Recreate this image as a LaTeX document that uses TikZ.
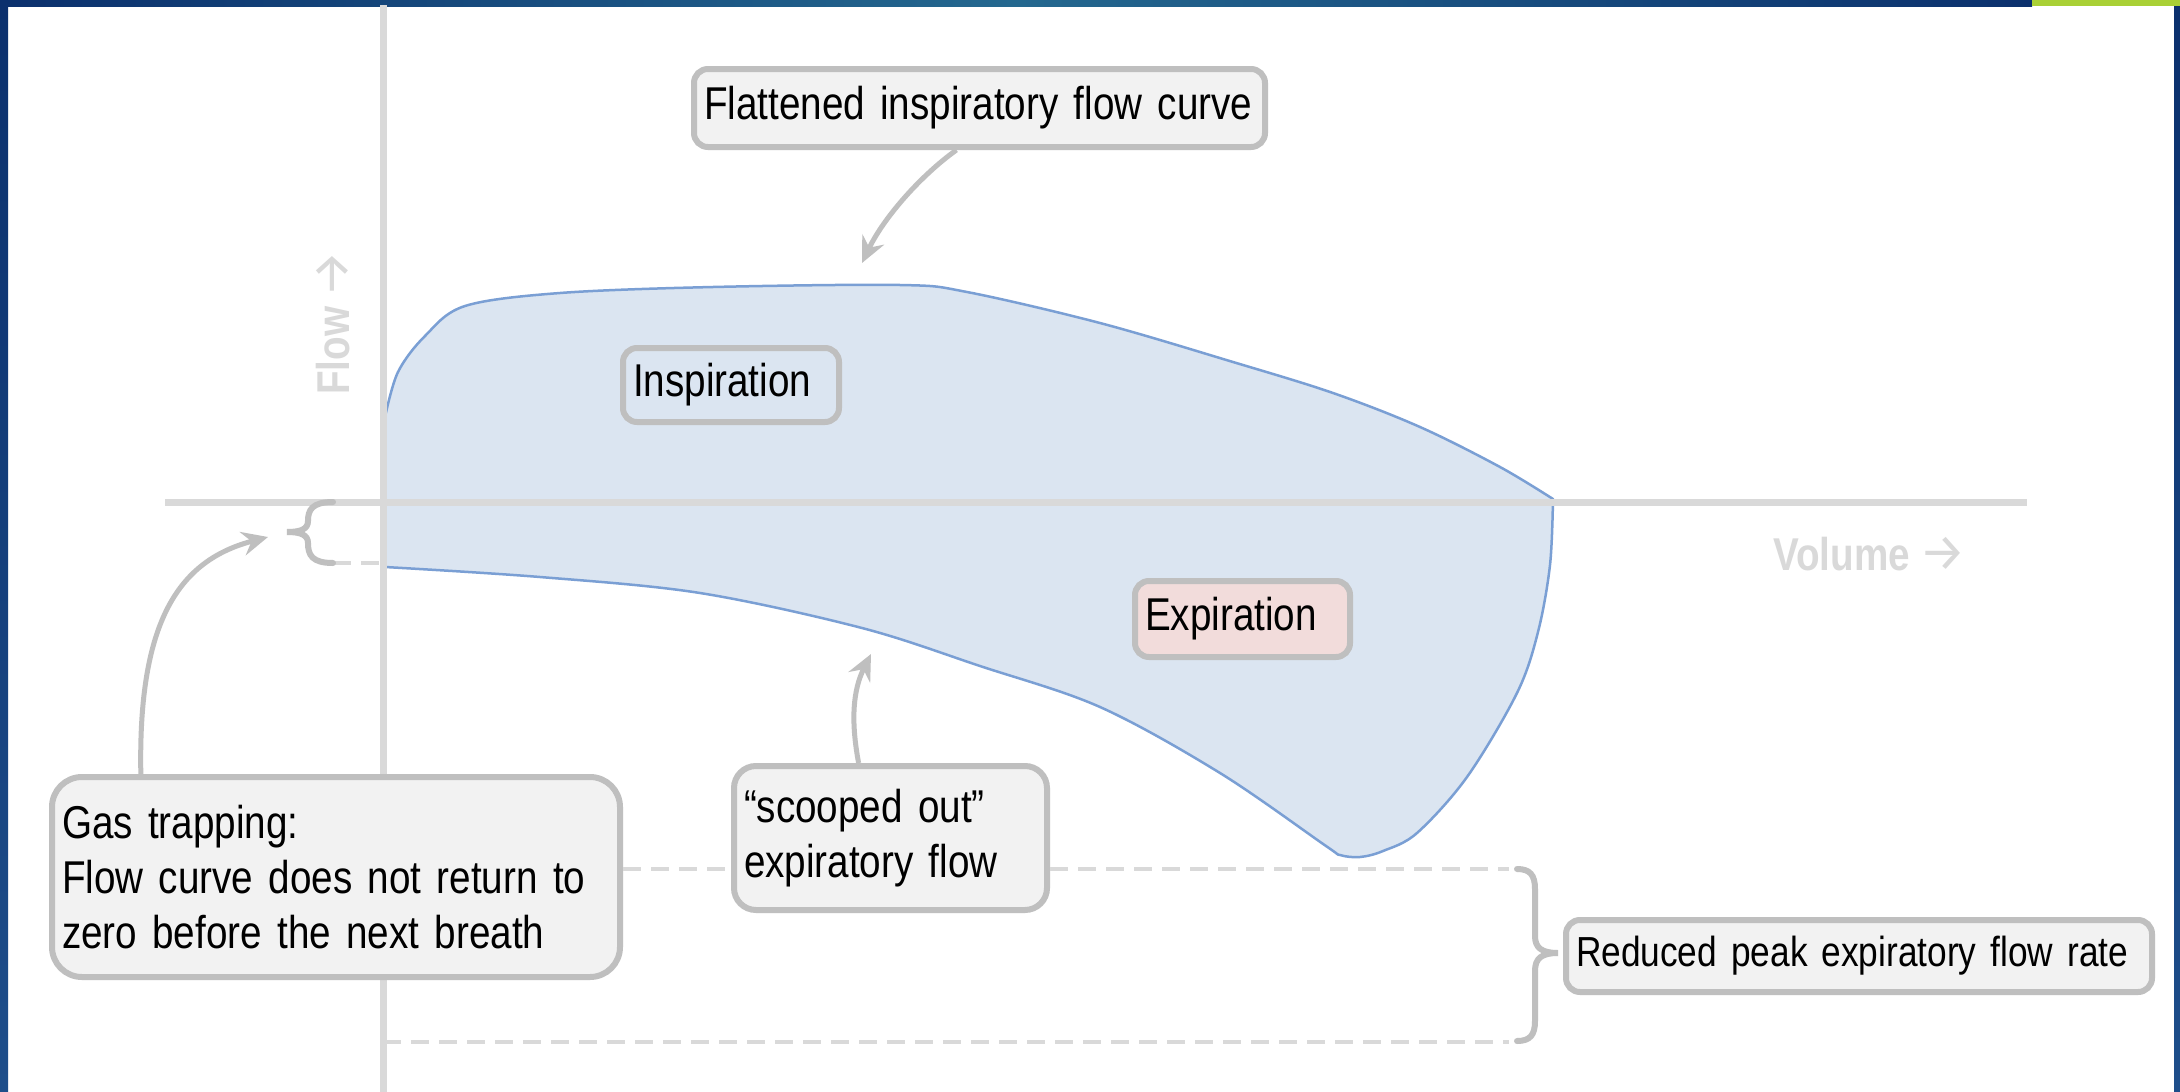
\documentclass[tikz,border=0pt]{standalone}
\usepackage{fontspec}
\setmainfont[FakeStretch=0.84, WordSpace=0.85]{Liberation Sans}
\newfontfamily\arrowfont{Fira Sans}
\usetikzlibrary{arrows.meta,calc}

\definecolor{axisgray}{HTML}{D9D9D9}
\definecolor{boxline}{HTML}{BFBFBF}
\definecolor{boxfill}{HTML}{F2F2F2}
\definecolor{loopfill}{HTML}{DBE5F1}
\definecolor{loopline}{HTML}{7A9FD4}
\definecolor{expfill}{HTML}{F2DCDB}
\definecolor{navy}{HTML}{0B306D}
\definecolor{midblue}{HTML}{24688F}
\definecolor{lime}{HTML}{A9D035}
\definecolor{sideblue}{HTML}{1E4E8A}

\newcommand{\axisarrow}{{\arrowfont\mdseries\fontsize{52}{55}\selectfont →}}

\begin{document}
\begin{tikzpicture}[x=1pt,y=-1pt,
  callout/.style={draw=boxline, line width=6pt, fill=boxfill, rounded corners=14pt,
    inner xsep=10pt, inner ysep=0pt, align=left, text=black,
    font=\fontsize{46}{55}\selectfont},
  pointer/.style={draw=boxline, line width=5pt,
    -{Stealth[length=26pt,width=24pt,inset=9pt]}},
  guide/.style={draw=axisgray, line width=4pt, dash pattern=on 18pt off 10pt},
  curly/.style={draw=boxline, line width=6pt, line cap=round},
  axisline/.style={draw=axisgray, line width=7pt},
  axislabel/.style={text=axisgray, inner sep=0pt,
    font=\fontsize{46}{55}\selectfont\bfseries}
]
\useasboundingbox (0,0) rectangle (2180,1092);
\fill[white] (0,0) rectangle (2180,1092);

% frame: top band, lime tab and side strips
\shade[left color=navy, right color=navy, middle color=midblue] (0,0) rectangle (2032,6);
\fill[lime] (2032,0) rectangle (2180,6);
\shade[top color=navy, bottom color=sideblue] (0,0) rectangle (8,1092);
\shade[top color=navy, bottom color=sideblue] (2174,6) rectangle (2180,1092);

% flow-volume loop
\filldraw[fill=loopfill, draw=loopline, line width=2.5pt, line join=round]
  plot[smooth, tension=0.55] coordinates {(385,417) (398,372) (425,336) (465,306)
    (560,293) (713,287) (900,285) (967,292) (1100,323) (1233,362) (1333,393)
    (1420,427) (1500,467) (1553,499)}
  -- plot[smooth, tension=0.55] coordinates {(1553,499) (1550,565) (1538,632)
    (1517,693) (1467,777) (1417,833) (1383,851) (1360,857) (1340,855) (1326,846)
    (1220,773) (1100,707) (980,666) (862,628) (700,593) (540,577) (385,567)}
  -- cycle;

% axes
\draw[axisline] (383,5) -- (383,1092);
\draw[axisline] (165,502) -- (2027,502);
\node[axislabel, rotate=90, anchor=base west] (flowlabel) at (349,395) {Flow \axisarrow};
\node[axislabel, anchor=base west] (volumelabel) at (1773,570) {Volume \axisarrow};

% guide coordinates
\coordinate (peaktop) at (1517,869);
\coordinate (peakbot) at (1517,1041);
\coordinate (axisbot) at (383,1042);
\coordinate (trapend) at (333,563);
\coordinate (traptop) at (333,502);
\coordinate (axistrap) at (383,563);

% callouts
\node[callout, text width=551pt, minimum height=78pt] (flat) at (979.5,108)
  {\mbox{Flattened inspiratory flow curve}};
\node[callout, fill=loopfill, text width=196pt, minimum height=74pt] (insp) at (731,385)
  {\mbox{Inspiration}};
\node[callout, fill=expfill, text width=195pt, minimum height=76pt] (exp) at (1242.5,619)
  {\mbox{Expiration}};
\node[callout, rounded corners=22pt, text width=293pt, minimum height=144pt] (scoop) at (890.5,838)
  {\mbox{“scooped out”}\\\mbox{expiratory flow}};
\node[callout, rounded corners=30pt, text width=548pt, minimum height=200pt] (gas) at (336,877)
  {\mbox{Gas trapping:}\\\mbox{Flow curve does not return to}\\\mbox{zero before the next breath}};
\node[callout, font=\fontsize{42}{50}\selectfont, text width=566pt, minimum height=72pt] (peak) at (1859,956)
  {\mbox{Reduced peak expiratory flow rate}};

% dashed guides
\draw[guide] (gas.east |- peaktop) -- (scoop.west |- peaktop);
\draw[guide] (scoop.east |- peaktop) -- ($(peaktop)+(-8,0)$);
\draw[guide] (axisbot) -- ($(peakbot)+(-8,1)$);
\draw[guide] (trapend) -- (axistrap);

% braces
\draw[curly] (traptop) .. controls (312,502) and (308,510) .. (308,521)
  .. controls (308,529) and (301,532) .. (287,532)
  .. controls (301,532) and (308,535) .. (308,543)
  .. controls (308,555) and (312,563) .. (trapend);
\draw[curly] (peaktop) .. controls (1530,869) and (1535,875) .. (1535,889)
  -- (1535,936) .. controls (1535,948) and (1542,953) .. (1558,953)
  .. controls (1542,953) and (1535,958) .. (1535,971)
  -- (1535,1021) .. controls (1535,1035) and (1530,1041) .. (peakbot);

% pointers
\coordinate (flattip) at (862,263);
\coordinate (scooptip) at (871,654);
\coordinate (gastip) at (268,537);
\draw[pointer] ($(flat.south west)!0.46!(flat.south east)$)
  .. controls +(-35,25) and +(22,-46) .. (flattip);
\draw[pointer] ($(scoop.north west)!0.4!(scoop.north east)$)
  .. controls +(-8,-43) and +(-18,36) .. (scooptip);
\draw[pointer] ($(gas.north west)!0.16!(gas.north east)$)
  .. controls +(-3,-155) and +(-88,23) .. (gastip);
\end{tikzpicture}
\end{document}
